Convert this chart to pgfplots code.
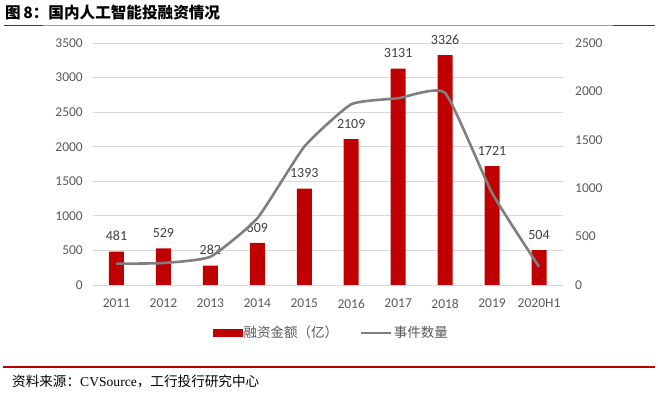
\documentclass[border=0pt]{standalone}
\usepackage{pgfplots}
\pgfplotsset{compat=1.18}
\usepackage{fontspec}
\setmainfont{Carlito}
\newfontfamily\cjk{Noto Sans CJK SC}
\newfontfamily\serifl{Liberation Serif}
\definecolor{barred}{HTML}{C00000}
\definecolor{linegray}{HTML}{7F7F7F}
\definecolor{gridgray}{HTML}{D9D9D9}
\definecolor{tickgray}{HTML}{595959}
\definecolor{labelgray}{HTML}{404040}
\definecolor{titlered}{HTML}{C00000}
\definecolor{titlepink}{HTML}{EC7A7A}
\pgfplotsset{/pgf/number format/assume math mode=true, /pgf/number format/1000 sep={}}
\begin{document}
\begin{tikzpicture}
\begin{scope}[x=1pt,y=1pt,shift={(-93pt,285pt)}]
\useasboundingbox (0,0) rectangle (658,-393);
\end{scope}

\begin{axis}[
  scale only axis,
  width=469.5pt, height=242pt,
  xmin=-0.5, xmax=9.5, ymin=0, ymax=3500,
  ytick={0,500,...,3500},
  xtick={0,...,9},
  xticklabels={2011,2012,2013,2014,2015,2016,2017,2018,2019,2020H1},
  axis x line*=bottom, axis y line*=left,
  x axis line style={gridgray, line width=0.8pt, -},
  y axis line style={draw=none},
  major tick length=0pt,
  ymajorgrids, grid style={gridgray, line width=0.8pt},
  tick label style={font=\fontsize{13.5}{14}\selectfont, text=tickgray},
  yticklabel style={inner sep=0pt, xshift=-10pt},
  xticklabel style={inner sep=0pt, yshift=-14pt},
  ybar, bar width=15pt,
  nodes near coords,
  nodes near coords style={font=\fontsize{14}{15}\selectfont, text=labelgray, inner sep=0pt, anchor=south, yshift=10.5pt},
  clip=false,
]
\addplot[fill=barred, draw=none] coordinates {(0,481) (1,529) (2,282) (3,609) (4,1393) (5,2109) (6,3131) (7,3326) (8,1721) (9,504)};
\end{axis}

\begin{axis}[
  scale only axis,
  width=469.5pt, height=242pt,
  xmin=-0.5, xmax=9.5, ymin=0, ymax=2500,
  ytick={0,500,...,2500},
  axis y line*=right, axis x line=none,
  y axis line style={draw=none},
  major tick length=0pt,
  tick label style={font=\fontsize{13.5}{14}\selectfont, text=tickgray},
  yticklabel style={inner sep=0pt, xshift=12.5pt},
  legend style={at={(0.507,-0.198)}, anchor=center, draw=none, fill=none,
    font=\cjk\fontsize{13.5}{14}\selectfont, text=tickgray,
    legend columns=2, nodes={inner sep=1.5pt},
    /tikz/every even column/.append style={column sep=20pt}},
  clip=false,
]
\addlegendimage{legend image code/.code={\fill[barred] (0pt,-3.5pt) rectangle (29pt,3.5pt);}}
\addlegendentry{融资金额（亿）}
\addplot[linegray, line width=2.6pt, smooth, tension=0.28, mark=none,
  legend image code/.code={\draw[linegray, line width=2.6pt] (0pt,0pt) -- (30pt,0pt);}]
  coordinates {(0,220) (1,227) (2,292) (3,689) (4,1429) (5,1867) (6,1929) (7,1985) (8,950) (9,189)};
\addlegendentry{事件数量}
\end{axis}

\begin{scope}[x=1pt,y=1pt,shift={(-93pt,285pt)}]
% title
\node[anchor=west, inner sep=0pt] at (5,-12.5) {\cjk\bfseries\fontsize{15.6}{16}\selectfont 图\,8：国内人工智能投融资情况};
\draw[line width=1.8pt, titlepink] (4,-25.5) -- (655,-25.5);
\draw[line width=1.8pt, titlered] (4,-25.5) -- (43,-25.5);
\draw[line width=1.8pt, titlered] (613,-25.5) -- (655,-25.5);
% footer
\draw[line width=2pt, titlered] (3,-367) -- (655,-367);
\node[anchor=west, inner sep=0pt] at (12,-381) {\cjk\fontsize{13.6}{14}\selectfont 资料来源：{\serifl CVSource}，工行投行研究中心};
\end{scope}
\end{tikzpicture}
\end{document}
